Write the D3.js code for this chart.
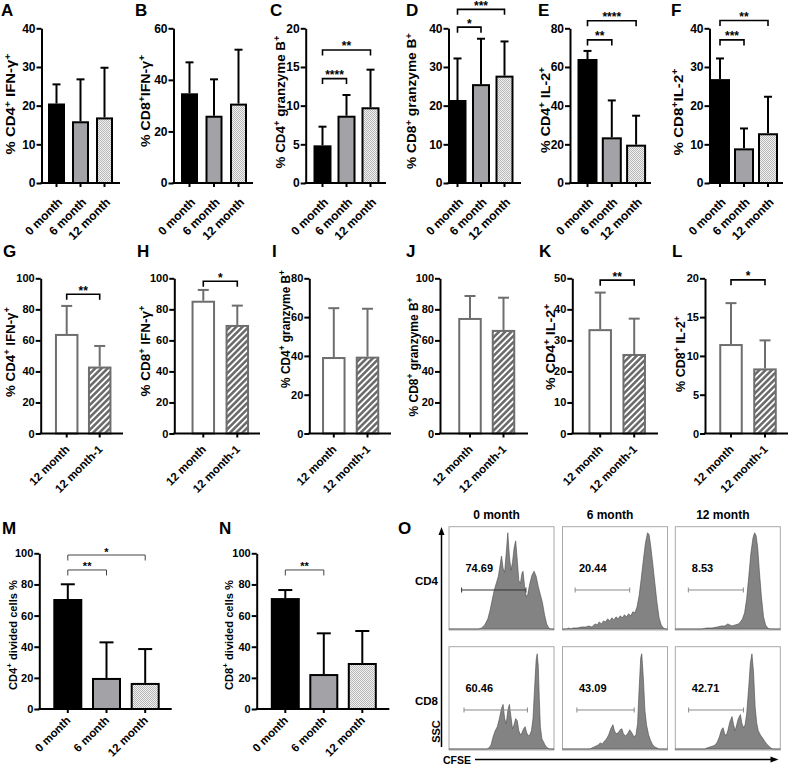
<!DOCTYPE html>
<html><head><meta charset="utf-8">
<script src="https://cdn.jsdelivr.net/npm/d3@7"></script>
<style>
body{margin:0;background:#fff;}
svg{display:block;font-family:"Liberation Sans",Arial,sans-serif;font-weight:bold;}
</style></head><body><svg id="c" width="789" height="767"></svg>
<script>
// ---------- DATA ----------
const monthCats = ["0 month","6 month","12 month"];
const pairCats = ["12 month","12 month-1"];

const aMean = [20.3,15.7,16.7], aSD = [5.2,11.1,13.1];
const bMean = [34.4,25.7,30.4], bSD = [12.4,14.5,21.3];
const cMean = [4.74,8.57,9.66], cSD = [2.54,2.81,4.99];
const dMean = [21.2,25.3,27.5], dSD = [11.0,12.0,9.1];
const eMean = [63.6,23.1,19.3], eSD = [4.7,19.6,15.5];
const fMean = [26.6,8.7,12.6], fSD = [5.6,5.4,9.7];
const gMean = [63.5,42.5], gSD = [18.7,13.9];
const hMean = [84.9,69.3], hSD = [7.6,13.1];
const iMean = [38.9,39.1], iSD = [25.7,25.2];
const jMean = [73.8,66.1], jSD = [14.8,21.4];
const kMean = [33.3,25.3], kSD = [12.1,11.7];
const lMean = [11.4,8.26], lSD = [5.4,3.74];
const mMean = [70.0,19.3,16.1], mSD = [10.1,23.5,22.4];
const nMean = [70.6,21.8,28.9], nSD = [5.8,26.8,21.2];

// significance brackets: [from, to, level (data units), label]
const cSig = [[0,1,13.5,"****"],[0,2,17.2,"**"]];
const dSig = [[0,1,40.3,"*"],[0,2,44.9,"***"]];
const eSig = [[0,1,74.0,"**"],[0,2,83.9,"****"]];
const fSig = [[0,1,37.0,"***"],[0,2,42.0,"**"]];
const gSig = [[0,1,89.7,"**"]];
const hSig = [[0,1,98.1,"*"]];
const kSig = [[0,1,49.4,"**"]];
const lSig = [[0,1,19.8,"*"]];
const mSig = [[0,1,89.3,"**"],[0,2,98.9,"*"]];
const nSig = [[0,1,89.3,"**"]];

// flow histograms (CFSE position 0-100, relative count 0-100)
const histCD4_0 = [[0,0],[28,0],[31,1],[34,4],[37,10],[39,18],[41,28],[43,38],[45,45],[47,52],[48.5,62],[50,72],[51.5,60],[53,56],[54.5,75],[56,95],[57.5,72],[59,58],[60.5,66],[62,80],[63.5,87],[65,68],[66.5,48],[68,45],[69.5,55],[70.5,57],[72,42],[73.5,32],[75,34],[77,45],[79,53],[81,57],[83,52],[85,42],[87,34],[89,26],[91,14],[93,5],[95,1],[97,0],[100,0]];
const histCD4_6 = [[0,0],[4,0],[6,1],[8,0],[10,1],[14,1],[18,2],[22,2],[25,3],[28,2],[31,5],[33,4],[35,7],[37,5],[39,8],[41,7],[43,10],[45,8],[47,11],[49,9],[51,12],[53,10],[55,13],[57,11],[59,14],[61,12],[63,15],[65,13],[67,17],[69,16],[71,22],[73,33],[75,50],[77,68],[79,85],[81,95],[82.5,93],[84,82],[86,64],[88,45],[90,26],[92,11],[94,4],[96,1],[98,0],[100,0]];
const histCD4_12 = [[0,0],[25,0],[30,1],[35,1],[40,2],[44,3],[47,3],[50,5],[52,4],[54,3],[57,4],[60,5],[62,7],[64,10],[66,16],[68,30],[70,52],[72,75],[74,90],[75.5,95],[77,92],[78.5,80],[80,58],[82,32],[84,12],[86,4],[88,1],[90,0],[100,0]];
const histCD8_0 = [[0,0],[36,0],[38,1],[40,4],[42,12],[44,18],[46,22],[48,30],[50,40],[51.5,44],[53,30],[54.5,25],[56,38],[57.5,44],[59,32],[60.5,20],[62,24],[63.5,30],[65,28],[66.5,18],[68,14],[69.5,16],[71,20],[72.5,22],[74,16],[75.5,13],[77,14],[78.5,18],[80,30],[81.5,60],[83,88],[84,94],[85,82],[86,50],[87,22],[88.5,10],[90,7],[92,3],[94,1],[96,0],[100,0]];
const histCD8_6 = [[0,0],[26,0],[28,1],[30,2],[32,3],[34,4],[36,6],[38,5],[40,8],[42,10],[44,14],[46,20],[48,24],[49.5,18],[51,15],[53,16],[55,19],[56.5,20],[58,15],[60,13],[62,15],[64,19],[66,16],[68,12],[70,14],[71.5,25],[73,60],[74.5,90],[75.5,94],[77,70],[78.5,38],[80,24],[82,14],[84,8],[86,4],[88,2],[90,1],[92,0],[100,0]];
const histCD8_12 = [[0,0],[28,0],[30,1],[33,2],[36,3],[38,4],[40,7],[42,12],[44,19],[45.5,21],[47,15],[48.5,13],[50,18],[52,27],[54,32],[55.5,24],[57,18],[58.5,24],[60,30],[62,34],[63.5,25],[65,21],[66.5,24],[68,35],[70,62],[71.5,85],[73,94],[74.5,76],[76,42],[77.5,26],[79,18],[81,14],[83,11],[85,8],[87,5],[89,3],[91,1],[93,0],[100,0]];
const gatePct = ["74.69","20.44","8.53","60.46","43.09","42.71"];
const gateStart = [12,12,12.4,14.3,13.7,12.7];
const gateEnd = [73.3,64,64.8,74.7,68.3,65];
const flowCols = ["0 month","6 month","12 month"];
const flowRows = ["CD4","CD8"];

// ---------- DRAWING ----------
const svg = d3.select("#c");
const defs = svg.append("defs");
const chk = defs.append("pattern").attr("id","chk").attr("width",2).attr("height",2).attr("patternUnits","userSpaceOnUse");
chk.append("rect").attr("width",2).attr("height",2).attr("fill","#f0f0f0");
chk.append("rect").attr("width",1).attr("height",1).attr("fill","#b8b8b8");
chk.append("rect").attr("x",1).attr("y",1).attr("width",1).attr("height",1).attr("fill","#b8b8b8");
const HP = 4.4;
const hat = defs.append("pattern").attr("id","hatch").attr("width",HP).attr("height",HP)
  .attr("patternUnits","userSpaceOnUse").attr("patternTransform","rotate(45)");
hat.append("rect").attr("width",HP).attr("height",HP).attr("fill","#fff");
hat.append("line").attr("x1",HP/2).attr("y1",0).attr("x2",HP/2).attr("y2",HP).attr("stroke","#666").attr("stroke-width",2.5);

const monthFills = ["#000","#a3a3a7","url(#chk)"];
const pairFills = ["#fff","url(#hatch)"];

function yLabel(g, text, bx, cy, sz, target){
  const t = g.append("text").attr("transform",`translate(${bx},${cy}) rotate(-90)`)
    .attr("text-anchor","middle").attr("fill","#000").attr("font-weight","bold").style("font-size",sz+"px");
  const parts = text.split("+");
  parts.forEach((s,i)=>{
    if(s.length) t.append("tspan").text(s).attr("dy", i>0 ? sz*0.36 : 0);
    if(i<parts.length-1){
      t.append("tspan").text("+").style("font-size",(sz*0.7)+"px").attr("dy", -sz*0.36);
    }
  });
  if(target){
    const len = t.node().getComputedTextLength();
    if(len>0) t.attr("transform",`translate(${bx},${cy}) rotate(-90) scale(${target/len},1)`);
  }
}

function barPanel(p){
  const g = svg.append("g");
  const n = p.cats.length;
  const pad = 1 - p.bw/p.step;
  const x = d3.scaleBand().domain(p.cats).range([p.c0 - p.step/2, p.c0 + (n-0.5)*p.step])
    .paddingInner(pad).paddingOuter(pad/2);
  const y = d3.scaleLinear().domain([0,p.yMax]).range([p.y0,p.yTop]);
  const col = p.stroke;
  g.selectAll("rect.bar").data(p.mean).join("rect").attr("class","bar")
    .attr("x",(d,i)=>x(p.cats[i])).attr("width",x.bandwidth())
    .attr("y",d=>y(d)).attr("height",d=>p.y0-y(d))
    .attr("fill",(d,i)=>p.fills[i]).attr("stroke",col).attr("stroke-width",2);
  const eb = g.selectAll("g.eb").data(p.mean).join("g").attr("class","eb");
  eb.append("line").attr("x1",(d,i)=>x(p.cats[i])+x.bandwidth()/2).attr("x2",(d,i)=>x(p.cats[i])+x.bandwidth()/2)
    .attr("y1",d=>y(d)-1).attr("y2",(d,i)=>y(d+p.sd[i])).attr("stroke",col).attr("stroke-width",2);
  eb.append("line").attr("x1",(d,i)=>x(p.cats[i])+x.bandwidth()/2-p.cap).attr("x2",(d,i)=>x(p.cats[i])+x.bandwidth()/2+p.cap)
    .attr("y1",(d,i)=>y(d+p.sd[i])).attr("y2",(d,i)=>y(d+p.sd[i])).attr("stroke",col).attr("stroke-width",2);
  const ya = g.append("g").attr("transform",`translate(${p.axisX},0)`)
    .call(d3.axisLeft(y).tickValues(d3.range(0,p.yMax+1e-9,p.yStep)).tickSize(5).tickSizeOuter(0).tickPadding(1));
  ya.attr("font-size",null).attr("font-family",null);
  ya.select(".domain").attr("stroke-width",2).attr("stroke","#000");
  ya.selectAll(".tick line").attr("stroke-width",2);
  ya.selectAll("text").style("font-size",p.tf+"px").attr("fill","#000");
  const xa = g.append("g").attr("transform",`translate(0,${p.y0})`)
    .call(d3.axisBottom(x).tickSize(4).tickSizeOuter(0));
  xa.attr("font-size",null).attr("font-family",null);
  xa.select(".domain").remove();
  xa.selectAll(".tick line").attr("stroke-width",2);
  xa.selectAll("text").attr("y",0).attr("dy",0).attr("x",0)
    .attr("transform",`translate(${p.ldx},${p.ldy}) rotate(-45)`)
    .style("text-anchor","end").style("font-size",p.xf+"px").attr("fill","#000");
  g.append("line").attr("x1",p.axisX-1).attr("x2",p.axisEnd).attr("y1",p.y0).attr("y2",p.y0)
    .attr("stroke","#000").attr("stroke-width",2);
  (p.sig||[]).forEach(s=>{
    const x1 = x(p.cats[s[0]])+x.bandwidth()/2, x2 = x(p.cats[s[1]])+x.bandwidth()/2, yy = y(s[2]);
    g.append("path").attr("d",`M${x1},${yy+p.bt}V${yy}H${x2}V${yy+p.bt}`).attr("fill","none")
      .attr("stroke",p.bcol).attr("stroke-width",p.bw2);
    g.append("text").attr("x",(x1+x2)/2).attr("y",yy+0.5).attr("text-anchor","middle")
      .style("font-size",p.sf+"px").text(s[3]);
  });
  yLabel(g,p.label,p.lbx,p.lcy,p.lf,p.llen);
  g.append("text").attr("x",p.Lx).attr("y",p.Ly).style("font-size","17px").text(p.letter);
}

const r1 = {y0:183,yTop:28.3,stroke:"#000",cap:4,tf:12,xf:12,ldx:6.5,ldy:20,lf:12.5,bt:5.5,bcol:"#000",bw2:1.6,sf:12,Ly:16};
const r2 = {y0:433.5,yTop:278.3,stroke:"#6e6e6e",cap:5.5,tf:11,xf:11.5,ldx:3.5,ldy:16.5,lf:12,bt:5.5,bcol:"#000",bw2:1.6,sf:12,Ly:257};
const r3 = {y0:709,yTop:553.3,stroke:"#000",cap:7,tf:11,xf:11.5,ldx:3.5,ldy:12,lf:11.5,bt:5.5,bcol:"#444",bw2:1,sf:11,Ly:533.5};

const panels = [
  {...r1,letter:"A",Lx:1,cats:monthCats,mean:aMean,sd:aSD,fills:monthFills,yMax:40,yStep:10,axisX:41.5,axisEnd:120,c0:56.5,step:24,bw:15,label:"% CD4+ IFN-γ+",lbx:15,lcy:104,llen:101},
  {...r1,letter:"B",Lx:135,cats:monthCats,mean:bMean,sd:bSD,fills:monthFills,yMax:60,yStep:20,axisX:173.5,axisEnd:253,c0:189.5,step:24.5,bw:15,label:"% CD8+IFN-γ+",lbx:149.5,lcy:101,llen:92},
  {...r1,letter:"C",Lx:270,cats:monthCats,mean:cMean,sd:cSD,fills:monthFills,yMax:20,yStep:5,axisX:305.7,axisEnd:386,c0:322.5,step:24,bw:16,label:"% CD4+ granzyme B+",lbx:284.5,lcy:102,sig:cSig,llen:133},
  {...r1,letter:"D",Lx:406,cats:monthCats,mean:dMean,sd:dSD,fills:monthFills,yMax:40,yStep:10,axisX:448.5,axisEnd:521,c0:457.5,step:23.5,bw:16,label:"% CD8+ granzyme B+",lbx:416,lcy:101,sig:dSig,llen:136},
  {...r1,letter:"E",Lx:538,cats:monthCats,mean:eMean,sd:eSD,fills:monthFills,yMax:80,yStep:20,axisX:570,axisEnd:651,c0:587.5,step:24.3,bw:18,label:"% CD4+ IL-2+",lbx:549.5,lcy:110,sig:eSig,llen:86},
  {...r1,letter:"F",Lx:671,cats:monthCats,mean:fMean,sd:fSD,fills:monthFills,yMax:40,yStep:10,axisX:709.5,axisEnd:783,c0:720,step:24,bw:18,label:"% CD8+IL-2+",lbx:682.5,lcy:112,sig:fSig,llen:87},
  {...r2,letter:"G",Lx:3,cats:pairCats,mean:gMean,sd:gSD,fills:pairFills,yMax:100,yStep:20,axisX:40.7,axisEnd:123,c0:66.7,step:33,bw:21.5,label:"% CD4+ IFN-γ+",lbx:14.5,lcy:352,sig:gSig,llen:90},
  {...r2,letter:"H",Lx:137,cats:pairCats,mean:hMean,sd:hSD,fills:pairFills,yMax:100,yStep:20,axisX:174.3,axisEnd:260,c0:203.3,step:34,bw:21.5,label:"% CD8+ IFN-γ+",lbx:149.5,lcy:351,sig:hSig,llen:91},
  {...r2,letter:"I",Lx:272,cats:pairCats,mean:iMean,sd:iSD,fills:pairFills,yMax:80,yStep:20,axisX:309.3,axisEnd:391,c0:333.8,step:33.7,bw:21.5,label:"% CD4+ granzyme B+",lbx:289.5,lcy:329,llen:118},
  {...r2,letter:"J",Lx:406,cats:pairCats,mean:jMean,sd:jSD,fills:pairFills,yMax:100,yStep:20,axisX:440,axisEnd:528,c0:470,step:33.5,bw:21.5,label:"% CD8+ granzyme B+",lbx:417.5,lcy:357,llen:119},
  {...r2,letter:"K",Lx:539,cats:pairCats,mean:kMean,sd:kSD,fills:pairFills,yMax:50,yStep:10,axisX:572.3,axisEnd:658,c0:600.2,step:34,bw:21.5,label:"% CD4+ IL-2+",lbx:554.5,lcy:347,sig:kSig,llen:86},
  {...r2,letter:"L",Lx:672,cats:pairCats,mean:lMean,sd:lSD,fills:pairFills,yMax:20,yStep:5,axisX:705,axisEnd:788,c0:731,step:34,bw:21.5,label:"% CD8+ IL-2+",lbx:684.5,lcy:354,sig:lSig,llen:76},
  {...r3,letter:"M",Lx:2,cats:monthCats,mean:mMean,sd:mSD,fills:monthFills,yMax:100,yStep:20,axisX:39.3,axisEnd:171.7,c0:67.8,step:38.7,bw:27,label:"CD4+ divided cells %",lbx:16.5,lcy:635,sig:mSig,llen:110},
  {...r3,letter:"N",Lx:219,cats:monthCats,mean:nMean,sd:nSD,fills:monthFills,yMax:100,yStep:20,axisX:256.7,axisEnd:389.3,c0:285.3,step:38.5,bw:27,label:"CD8+ divided cells %",lbx:232.5,lcy:635,sig:nSig,llen:110}
];
panels.forEach(barPanel);

// ---------- FLOW PANEL O ----------
const og = svg.append("g");
const hists = [histCD4_0,histCD4_6,histCD4_12,histCD8_0,histCD8_6,histCD8_12];
const boxX = [449,562.5,675.3], boxY = [526.7,646.7], boxW = 105, boxH = 103.3;
hists.forEach((h,k)=>{
  const c = k%3, r = Math.floor(k/3);
  const x = d3.scaleLinear().domain([0,100]).range([boxX[c],boxX[c]+boxW]);
  const y = d3.scaleLinear().domain([0,100]).range([boxY[r]+boxH-1,boxY[r]+1]);
  og.append("rect").attr("x",boxX[c]).attr("y",boxY[r]).attr("width",boxW).attr("height",boxH)
    .attr("fill","#fff").attr("stroke","#a8a8a8").attr("stroke-width",1);
  const area = d3.area().x(d=>x(d[0])).y0(y(0)).y1(d=>y(d[1]));
  og.append("path").attr("d",area(h)).attr("fill","#838383").attr("stroke","#4a4a4a").attr("stroke-width",0.6);
  const gy = y(38.5);
  const gc = k===0 ? "#333" : "#8a8a8a";
  og.append("path").attr("d",`M${x(gateStart[k])},${gy-2.5}V${gy+2.5}M${x(gateStart[k])},${gy}H${x(gateEnd[k])}M${x(gateEnd[k])},${gy-2.5}V${gy+2.5}`)
    .attr("stroke",gc).attr("stroke-width",1).attr("fill","none");
  og.append("text").attr("x",boxX[c]+16.5).attr("y",boxY[r]+45.5).style("font-size","11px").text(gatePct[k]);
});
flowCols.forEach((t,i)=>{
  og.append("text").attr("x",boxX[i]+boxW/2-5).attr("y",519).attr("text-anchor","middle").style("font-size","12px").text(t);
});
flowRows.forEach((t,i)=>{
  og.append("text").attr("x",438).attr("y",[585,705][i]).attr("text-anchor","end").style("font-size","11.5px").text(t);
});
og.append("text").attr("x",398).attr("y",534).style("font-size","17px").text("O");
og.append("path").attr("d","M441.5,747V533").attr("stroke","#000").attr("stroke-width",1.5);
og.append("path").attr("d","M441.5,527L438.5,535L444.5,535Z").attr("fill","#000");
og.append("path").attr("d","M475,759.5H772").attr("stroke","#000").attr("stroke-width",1.5);
og.append("path").attr("d","M778.5,759.5L770.5,756.5L770.5,762.5Z").attr("fill","#000");
og.append("text").attr("transform","translate(439.5,731.5) rotate(-90)").attr("text-anchor","middle").style("font-size","11px").text("SSC");
og.append("text").attr("x",443).attr("y",764).style("font-size","10.5px").text("CFSE");
svg.selectAll("text").attr("font-weight","bold");
</script></body></html>
